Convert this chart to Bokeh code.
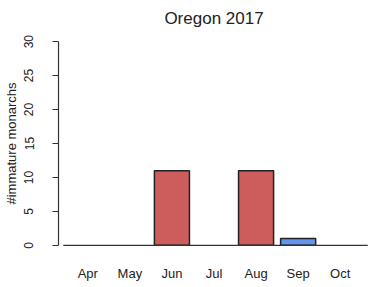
import math
from bokeh.plotting import figure
from bokeh.models import ColumnDataSource, FixedTicker, Range1d
from bokeh.embed import file_html
from bokeh.resources import INLINE

title_text = "Oregon 2017"
months = ["Apr", "May", "Jun", "Jul", "Aug", "Sep", "Oct"]
counts = [0, 0, 11, 0, 11, 1, 0]
colors = ["#CD5C5C", "#CD5C5C", "#CD5C5C", "#CD5C5C", "#CD5C5C", "#6495ED", "#CD5C5C"]
y_ticks = [0, 5, 10, 15, 20, 25, 30]

# R barplot geometry: width 1, space 0.2
centers = [0.7 + 1.2 * i for i in range(len(months))]
x_lo = 0.2 - 0.04 * (1.2 * len(months))
x_hi = 1.2 * len(months) + 0.04 * (1.2 * len(months))
y_lo, y_hi = -1.2, 31.2

FONT = "Liberation Sans"

p = figure(frame_width=311, frame_height=220,
           min_border_left=57, min_border_right=1, min_border_top=31, min_border_bottom=34,
           output_backend="svg", toolbar_location=None,
           x_range=Range1d(x_lo, x_hi), y_range=Range1d(y_lo, y_hi),
           title=title_text)
p.title.align = "center"
p.title.text_font = FONT
p.title.text_font_size = "17px"
p.title.text_font_style = "normal"
p.title.text_color = "#222222"
p.title.offset = 0
p.title.standoff = 12

p.outline_line_color = None
p.xgrid.visible = False
p.ygrid.visible = False
p.background_fill_color = "white"
p.border_fill_color = "white"

nz = [i for i, c in enumerate(counts) if c > 0]
bsrc = ColumnDataSource(dict(x=[centers[i] for i in nz], top=[counts[i] for i in nz],
                             color=[colors[i] for i in nz]))
p.vbar(x="x", top="top", bottom=0, width=1.0, source=bsrc, fill_color="color",
       line_color="#222222", line_width=1.5)

# baseline
p.segment(x0=[0.0], y0=[0], x1=[x_hi - 0.05], y1=[0], line_color="#333333", line_width=1.2)

# y axis
ya = p.yaxis[0]
ya.ticker = FixedTicker(ticks=y_ticks)
ya.bounds = (0, 30)
ya.axis_line_color = "#333333"
ya.axis_line_width = 1.2
ya.major_tick_line_color = "#333333"
ya.major_tick_out = 6
ya.major_tick_in = 0
ya.minor_tick_out = 0
ya.minor_tick_in = 0
ya.major_label_orientation = "vertical"
ya.major_label_text_font = FONT
ya.major_label_text_font_size = "12px"
ya.major_label_text_color = "#222222"
ya.major_label_standoff = 19
ya.axis_label = "#immature monarchs"
ya.axis_label_text_font = FONT
ya.axis_label_text_font_size = "13px"
ya.axis_label_text_font_style = "normal"
ya.axis_label_text_color = "#222222"
ya.axis_label_standoff = 3

# x axis
xa = p.xaxis[0]
xa.ticker = FixedTicker(ticks=centers)
xa.major_label_overrides = {c: m for c, m in zip(centers, months)}
xa.axis_line_color = None
xa.major_tick_line_color = None
xa.minor_tick_line_color = None
xa.major_label_text_font = FONT
xa.major_label_text_font_size = "13px"
xa.major_label_text_color = "#222222"
xa.major_label_standoff = 6

open("out.html", "w").write(file_html(p, INLINE))
